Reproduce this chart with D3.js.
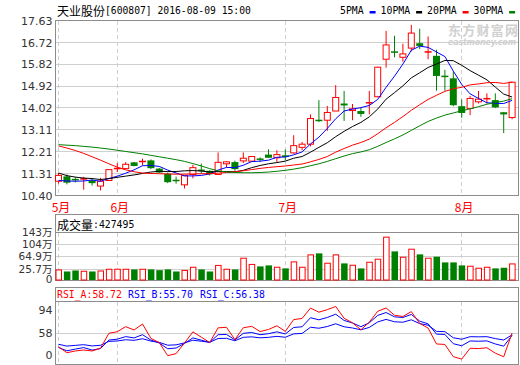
<!DOCTYPE html>
<html><head><meta charset="utf-8">
<script src="https://cdn.jsdelivr.net/npm/d3@7"></script>
<style>body{margin:0;background:#fff}svg{display:block}</style>
</head><body>
<svg id="c" width="520" height="365"></svg>
<script>
// ---------------- data ----------------
const dates = ["2016-05-23","2016-05-24","2016-05-25","2016-05-26","2016-05-27","2016-05-30","2016-05-31",
"2016-06-01","2016-06-02","2016-06-03","2016-06-06","2016-06-07","2016-06-08","2016-06-13","2016-06-14","2016-06-15","2016-06-16","2016-06-17","2016-06-20","2016-06-21","2016-06-22","2016-06-23","2016-06-24","2016-06-27","2016-06-28","2016-06-29","2016-06-30",
"2016-07-01","2016-07-04","2016-07-05","2016-07-06","2016-07-07","2016-07-08","2016-07-11","2016-07-12","2016-07-13","2016-07-14","2016-07-15","2016-07-18","2016-07-19","2016-07-20","2016-07-21","2016-07-22","2016-07-25","2016-07-26","2016-07-27","2016-07-28","2016-07-29",
"2016-08-01","2016-08-02","2016-08-03","2016-08-04","2016-08-05","2016-08-08","2016-08-09"];
const openP  = [10.99,11.19,11.08,11.06,11.02,10.79,11.02,11.50,11.51,11.77,11.79,11.85,11.51,11.30,11.05,10.84,11.27,11.46,11.42,11.27,11.71,11.78,11.83,11.82,11.91,12.09,11.96,12.06,12.16,12.39,12.52,13.52,13.51,13.89,14.20,13.91,13.89,14.20,14.48,16.03,16.35,16.11,16.49,16.69,16.31,16.17,15.34,15.24,14.09,14.00,14.27,14.38,14.34,13.84,13.62];
const highP  = [11.33,11.27,11.16,11.17,11.08,11.13,11.48,11.74,11.78,11.79,11.92,11.89,11.54,11.35,11.18,11.23,11.67,11.72,11.44,12.18,11.82,11.84,12.18,12.02,11.98,12.31,12.27,12.30,12.89,12.61,13.75,14.34,14.10,14.96,14.72,14.18,14.04,14.72,15.72,17.20,17.00,16.67,17.45,17.29,16.97,16.42,15.59,15.52,14.37,14.51,14.72,14.62,14.62,13.84,15.10];
const lowP   = [10.89,10.86,10.94,10.64,10.81,10.61,11.00,11.37,11.48,11.60,11.64,11.49,11.33,10.91,10.89,10.69,11.11,11.31,11.23,11.27,11.56,11.42,11.74,11.80,11.78,11.96,11.78,11.85,12.13,12.27,12.43,13.43,13.07,13.89,13.48,13.51,13.65,13.75,14.46,15.68,16.11,15.93,16.35,16.45,16.03,14.73,14.73,14.09,13.61,13.72,14.20,14.20,14.01,12.98,13.55];
const closeP = [11.23,10.93,11.03,11.11,10.91,10.99,11.47,11.53,11.69,11.62,11.82,11.53,11.35,10.95,10.99,11.22,11.55,11.42,11.28,11.77,11.79,11.49,11.94,12.01,11.89,11.96,12.09,11.99,12.46,12.52,13.58,13.48,13.83,14.45,14.12,13.98,13.77,14.26,15.70,16.62,16.30,16.25,17.11,16.58,16.35,15.34,15.30,14.13,13.81,14.41,14.38,14.42,14.04,13.75,15.08];
// volume in 万
const volume = [23.5,17.0,20.2,19.3,17.0,20.2,25.7,25.7,25.7,23.5,25.7,23.5,21.2,23.5,17.0,21.9,32.1,23.5,17.0,37.9,25.7,23.5,61.0,41.1,33.2,36.4,32.1,26.8,49.2,32.1,71.6,74.8,44.9,71.6,42.8,38.5,26.8,48.1,57.7,128.1,81.1,64.1,89.7,71.6,60.9,64.1,46.0,46.0,36.4,35.3,28.9,32.1,26.8,28.9,42.7];
const ma5  = [11.02,11.00,10.99,11.00,11.04,10.99,11.10,11.20,11.32,11.46,11.63,11.64,11.60,11.45,11.33,11.21,11.21,11.23,11.29,11.45,11.56,11.55,11.65,11.80,11.82,11.86,11.98,11.99,12.08,12.20,12.53,12.81,13.17,13.57,13.89,13.97,14.03,14.12,14.37,14.87,15.33,15.83,16.40,16.57,16.52,16.33,16.14,15.54,14.99,14.60,14.41,14.23,14.21,14.20,14.33];
const ma10 = [11.33,11.22,11.16,11.12,11.10,11.06,11.10,11.15,11.20,11.25,11.31,11.37,11.40,11.39,11.39,11.42,11.43,11.41,11.37,11.39,11.39,11.38,11.44,11.55,11.64,11.71,11.76,11.82,11.94,12.01,12.19,12.39,12.58,12.83,13.05,13.25,13.42,13.65,13.97,14.38,14.65,14.93,15.26,15.47,15.69,15.83,15.98,15.97,15.78,15.56,15.37,15.18,14.88,14.59,14.47];
const ma20 = [12.45,12.36,12.26,12.14,12.00,11.86,11.71,11.57,11.46,11.38,11.33,11.31,11.30,11.29,11.28,11.28,11.29,11.30,11.30,11.32,11.35,11.38,11.42,11.47,11.52,11.56,11.59,11.62,11.66,11.70,11.79,11.89,12.01,12.19,12.34,12.48,12.59,12.73,12.95,13.20,13.42,13.66,13.92,14.15,14.37,14.54,14.70,14.81,14.87,14.97,15.01,15.06,15.07,15.03,15.08];
const ma30 = [12.50,12.48,12.46,12.43,12.40,12.36,12.32,12.27,12.22,12.17,12.12,12.06,12.00,11.94,11.88,11.81,11.72,11.62,11.51,11.42,11.37,11.35,11.34,11.34,11.35,11.37,11.40,11.44,11.49,11.55,11.63,11.71,11.81,11.92,12.03,12.13,12.20,12.29,12.43,12.59,12.74,12.90,13.09,13.28,13.46,13.60,13.72,13.81,13.90,13.98,14.07,14.17,14.24,14.30,14.40];
const rsiA = [42.1,34.8,36.9,38.1,36.9,40.1,58.3,60.2,66.3,62.3,69.5,52.2,46.9,31.3,33.7,46.6,60.0,53.6,47.2,64.9,65.5,50.7,65.0,66.7,60.4,62.9,67.4,60.6,74.9,76.2,88.8,83.8,86.9,90.7,76.5,70.9,62.6,71.8,84.9,88.9,80.1,78.6,84.5,70.3,64.6,45.4,44.8,30.0,27.1,40.2,39.8,40.8,34.3,29.9,58.72];
const rsiB = [41.1,37.1,39.2,41.0,38.0,39.9,50.1,51.2,54.3,52.7,56.6,50.1,46.5,39.6,40.5,46.0,52.7,50.0,47.2,56.6,56.9,50.4,58.2,59.3,56.6,57.8,60.1,57.5,65.3,66.2,77.1,74.6,77.4,81.4,73.8,70.8,66.3,71.0,79.9,83.4,78.2,77.4,81.1,73.0,69.7,57.3,56.9,45.7,43.2,49.0,48.7,49.1,45.4,42.7,55.70];
const rsiC = [45.0,42.8,43.7,44.5,43.0,43.8,48.5,49.0,50.5,49.8,51.7,48.9,47.3,43.9,44.3,46.7,49.9,48.7,47.4,52.0,52.2,49.3,53.4,54.0,52.8,53.4,54.6,53.5,57.6,58.1,65.6,64.4,66.5,69.8,66.2,64.7,62.5,65.4,72.0,75.1,72.2,71.7,74.6,70.0,68.1,60.6,60.3,52.9,51.1,54.2,54.0,54.2,51.9,50.2,56.38];
const priceTicks = [10.40,11.31,12.21,13.11,14.02,14.92,15.82,16.72,17.63];
const volTicks = [0,25.7,64.9,104,143];
const volTickLabels = ["0","25.7万","64.9万","104万","143万"];
const rsiTicks = [0,58,94];
const maNames = ["5PMA","10PMA","20PMA","30PMA"];
const stockName = "天业股份";
const stockInfo = "[600807] 2016-08-09 15:00";
const lastVolume = 427495;

// ---------------- layout ----------------
const L = 55.5, R = 518.5;
const P = {top: 20.5, bottom: 195.5};
const V = {top: 214.5, head: 232.5, bottom: 280.5};
const S = {top: 287.5, head: 301.5, bottom: 364.5};
const RED = "#ff0000", GREEN = "#008000", BLUE = "#0000ff", BLACK = "#000000";
const FRAME = "#8c8c8c", GRID = "#cfcfcf";
const MONO = "'DejaVu Sans Mono', monospace";
const CJK = "'Noto Sans CJK SC', sans-serif";
const SANS = "'DejaVu Sans', 'Noto Sans CJK SC', sans-serif";

const svg = d3.select("#c");
const x = d3.scalePoint().domain(dates).range([58.5, 512.1]);
const yP = d3.scaleLinear().domain([10.40, 17.63]).range([P.bottom, P.top]);
const yV = d3.scaleLinear().domain([0, 143]).range([277.3, V.head]);
const yR = d3.scaleLinear().domain([0, 100]).range([381.5, 298.8]);
const crisp = v => Math.round(v - 0.5) + 0.5;

// watermark
const wm = svg.append("g").attr("fill", "#d0d0d0");
wm.append("text").attr("x", 448).attr("y", 29).attr("dominant-baseline", "central")
  .attr("font-family", CJK).attr("font-weight", "bold").attr("font-size", 13)
  .attr("textLength", 70).text("东方财富网");
wm.append("text").attr("x", 448).attr("y", 42.5).attr("dominant-baseline", "central")
  .attr("font-family", SANS).attr("font-weight", "bold").attr("font-style", "italic").attr("font-size", 8)
  .attr("textLength", 68).text("eastmoney.com");

// grid lines
const grid = svg.append("g").attr("stroke", GRID).attr("stroke-width", 1).attr("shape-rendering", "crispEdges");
priceTicks.slice(1, -1).forEach(t => grid.append("line").attr("x1", L).attr("x2", R)
  .attr("y1", crisp(yP(t))).attr("y2", crisp(yP(t))));
volTicks.slice(1, -1).forEach(t => grid.append("line").attr("x1", L).attr("x2", R)
  .attr("y1", crisp(yV(t))).attr("y2", crisp(yV(t))));
grid.append("line").attr("x1", L).attr("x2", R).attr("y1", crisp(yR(58))).attr("y2", crisp(yR(58)));

// month separators
const monthIdx = dates.map((d, i) => i).filter(i => i === 0 || dates[i].slice(5, 7) !== dates[i - 1].slice(5, 7));
const dash = svg.append("g").attr("stroke", GRID).attr("stroke-dasharray", "4,3").attr("shape-rendering", "crispEdges");
monthIdx.forEach(i => {
  const xx = crisp(x(dates[i]));
  [[P.top, P.bottom], [V.head, V.bottom], [S.head, S.bottom]].forEach(([a, b]) =>
    dash.append("line").attr("x1", xx).attr("x2", xx).attr("y1", a).attr("y2", b));
});
svg.append("g").selectAll("text").data(monthIdx).join("text")
  .attr("x", i => x(dates[i]) + 2.5).attr("y", 206).attr("text-anchor", "middle")
  .attr("dominant-baseline", "central").attr("fill", RED).attr("font-family", CJK).attr("font-size", 12)
  .text(i => (+dates[i].slice(5, 7)) + "月");

// frames
const fr = svg.append("g").attr("fill", "none").attr("stroke", FRAME).attr("shape-rendering", "crispEdges");
fr.append("rect").attr("x", L).attr("y", P.top).attr("width", R - L).attr("height", P.bottom - P.top);
fr.append("rect").attr("x", L).attr("y", V.top).attr("width", R - L).attr("height", V.bottom - V.top);
fr.append("line").attr("x1", L).attr("x2", R).attr("y1", V.head).attr("y2", V.head);
fr.append("rect").attr("x", L).attr("y", S.top).attr("width", R - L).attr("height", S.bottom - S.top);
fr.append("line").attr("x1", L).attr("x2", R).attr("y1", S.head).attr("y2", S.head);

// axes
function styleAxis(size) {
  return g => {
    g.select(".domain").remove();
    g.selectAll("line").remove();
    g.selectAll("text").attr("font-family", SANS).attr("font-size", size).attr("fill", "#333");
  };
}
svg.append("g").attr("transform", `translate(${L},0)`)
  .call(d3.axisLeft(yP).tickValues(priceTicks).tickFormat(d3.format(".2f")).tickSize(0).tickPadding(3))
  .call(styleAxis(11));
const va = svg.append("g").attr("transform", `translate(${L},0)`)
  .call(d3.axisLeft(yV).tickValues(volTicks).tickFormat((d, i) => volTickLabels[i]).tickSize(0).tickPadding(3))
  .call(styleAxis(10.5));
va.selectAll(".tick").attr("transform", d => `translate(0,${d === 0 ? V.bottom - 0.5 : yV(d)})`);
const ra = svg.append("g").attr("transform", `translate(${L},0)`)
  .call(d3.axisLeft(yR).tickValues(rsiTicks).tickFormat(d3.format("d")).tickSize(0).tickPadding(3))
  .call(styleAxis(11));
ra.selectAll(".tick").attr("transform", d => `translate(0,${Math.max(S.head + 8.5, Math.min(S.bottom - 9.5, yR(d)))})`);

// candles
const idx = d3.range(dates.length);
const up = i => closeP[i] >= openP[i];
const cg = svg.append("g");
idx.forEach(i => {
  const cx = x(dates[i]);
  const col = up(i) ? RED : GREEN;
  cg.append("line").attr("x1", cx).attr("x2", cx).attr("y1", yP(highP[i])).attr("y2", yP(lowP[i]))
    .attr("stroke", col).attr("stroke-width", 1);
  const yt = yP(Math.max(openP[i], closeP[i])), yb = yP(Math.min(openP[i], closeP[i]));
  const h = yb - yt;
  if (h < 1.5) {
    cg.append("rect").attr("x", cx - 3.5).attr("y", (yt + yb) / 2 - 0.75).attr("width", 7).attr("height", 1.5).attr("fill", col);
  } else if (up(i)) {
    cg.append("rect").attr("x", cx - 3).attr("y", yt).attr("width", 6).attr("height", h)
      .attr("fill", "#fff").attr("stroke", col).attr("stroke-width", 1);
  } else {
    cg.append("rect").attr("x", cx - 3.5).attr("y", yt).attr("width", 7).attr("height", h).attr("fill", col);
  }
});

// moving averages
const maLine = d3.line().x((d, i) => x(dates[i])).y(d => yP(d));
[[ma5, BLUE], [ma10, BLACK], [ma20, RED], [ma30, GREEN]].forEach(([arr, col]) =>
  svg.append("path").attr("d", maLine(arr)).attr("fill", "none").attr("stroke", col).attr("stroke-width", 1));

// volume bars
const vg = svg.append("g");
idx.forEach(i => {
  const cx = x(dates[i]);
  const top = yV(volume[i]);
  if (up(i)) {
    vg.append("rect").attr("x", cx - 2.5).attr("y", top).attr("width", 5.5).attr("height", V.bottom - 0.5 - top)
      .attr("fill", "#fff").attr("stroke", RED).attr("stroke-width", 1);
  } else {
    vg.append("rect").attr("x", cx - 3).attr("y", top - 0.5).attr("width", 6.5).attr("height", V.bottom - top)
      .attr("fill", GREEN);
  }
});

// RSI lines
svg.append("defs").append("clipPath").attr("id", "rclip").append("rect")
  .attr("x", L).attr("y", S.head).attr("width", R - L).attr("height", S.bottom - S.head);
const rLine = d3.line().x((d, i) => x(dates[i])).y(d => yR(d));
const rg = svg.append("g").attr("clip-path", "url(#rclip)");
[[rsiC, BLUE], [rsiB, BLUE], [rsiA, RED]].forEach(([arr, col]) =>
  rg.append("path").attr("d", rLine(arr)).attr("fill", "none").attr("stroke", col).attr("stroke-width", 1));

// title
const tt = svg.append("text").attr("x", 57).attr("y", 9.5).attr("dominant-baseline", "central").attr("fill", "#000");
tt.append("tspan").attr("font-family", CJK).attr("font-size", 12).text(stockName);
tt.append("tspan").attr("font-family", MONO).attr("font-size", 9.7).text(stockInfo);

// legend
const legendCols = [BLUE, BLACK, RED, GREEN];
let lx = 340;
maNames.forEach((n, k) => {
  svg.append("text").attr("x", lx).attr("y", 10.3).attr("dominant-baseline", "central")
    .attr("font-family", MONO).attr("font-size", 9.8).attr("fill", "#000").text(n);
  lx += n.length * 5.9 + 6;
  svg.append("rect").attr("x", lx).attr("y", 11).attr("width", 6).attr("height", 2.5).attr("fill", legendCols[k]);
  lx += 11;
});

// volume header
const vh = svg.append("text").attr("x", 57).attr("y", 223.5).attr("dominant-baseline", "central").attr("fill", "#000");
vh.append("tspan").attr("font-family", CJK).attr("font-size", 12).text("成交量");
vh.append("tspan").attr("font-family", MONO).attr("font-size", 9.8).text(":" + lastVolume);

// RSI header
const fmt = d3.format(".2f");
[["RSI_A", rsiA, RED, 57], ["RSI_B", rsiB, BLUE, 128], ["RSI_C", rsiC, BLUE, 200]].forEach(([n, arr, col, px]) =>
  svg.append("text").attr("x", px).attr("y", 294.7).attr("dominant-baseline", "central")
    .attr("font-family", MONO).attr("font-size", 9.8).attr("fill", col)
    .text(n + ":" + fmt(arr[arr.length - 1])));
</script>
</body></html>
